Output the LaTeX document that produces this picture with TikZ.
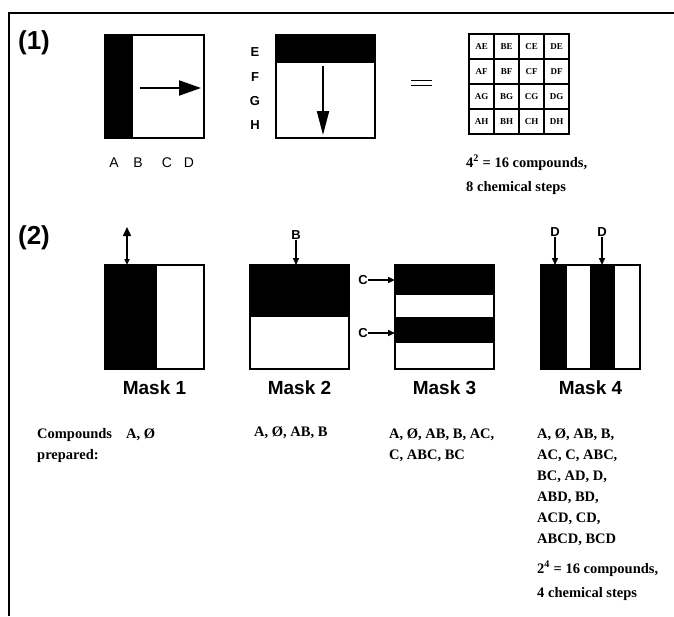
\documentclass[tikz,border=0pt]{standalone}
\usepackage{fontspec}
\setmainfont{Liberation Serif}
\newfontfamily\hv{Liberation Sans}
\usetikzlibrary{arrows.meta,calc}

\begin{document}
\begin{tikzpicture}[x=1pt,y=-1pt,
  frame/.style={line width=1.6pt},
  maskbox/.style={draw,line width=1.8pt,rectangle,minimum width=99pt,minimum height=104pt,inner sep=0pt,outer sep=0pt},
  panelbox/.style={draw,line width=1.8pt,rectangle,minimum width=99pt,minimum height=103pt,inner sep=0pt,outer sep=0pt},
  tag/.style={font=\hv\bfseries\fontsize{13}{13}\selectfont,inner sep=0pt},
  axis/.style={font=\hv\fontsize{14}{14}\selectfont,inner sep=0pt},
  masklabel/.style={font=\hv\bfseries\fontsize{19}{19}\selectfont,inner sep=0pt},
  body/.style={font=\bfseries\fontsize{14.5}{21}\selectfont,inner sep=0pt,align=left,anchor=north west},
  note/.style={font=\bfseries\fontsize{14.5}{24}\selectfont,inner sep=0pt,align=left,anchor=north west},
  num/.style={font=\hv\bfseries\fontsize{26}{26}\selectfont,inner sep=0pt},
  bigarrow/.style={line width=2pt,-{Triangle[length=22pt,width=15pt]}},
  downarrow/.style={line width=2pt,-{Triangle[length=24pt,width=12pt]}},
  smallarrow/.style={line width=1.5pt,-{Triangle[length=7pt,width=6pt]}},
  bothways/.style={line width=1.5pt,{Triangle[length=9pt,width=8pt]}-{Triangle[length=6pt,width=5pt]}},
  cell/.style={draw,line width=1.2pt,minimum size=25pt,inner sep=0pt,font=\bfseries\fontsize{9}{9}\selectfont}
]
\useasboundingbox (0,0) rectangle (674,616);

% outer frame (top and left edges)
\draw[frame] (674,13) -- (9,13) -- (9,616);

% ---------------- part (1) ----------------
\node[num] (p1) at (34,43) {(1)};

% first mask: dark column A, sweep to the right
\fill (105,35) rectangle (133,138);
\node[panelbox] (b1) at (154.5,86.5) {};
\coordinate (r1s) at (140,88);
\coordinate (r1e) at (201,88);
\draw[bigarrow] (r1s) -- (r1e);
\node[axis] (xa) at (114,163) {A};
\node[axis] (xb) at (138,163) {B};
\node[axis] (xc) at (167,163) {C};
\node[axis] (xd) at (189,163) {D};

% second mask: dark row E, sweep downwards
\fill (277,35) rectangle (374,63);
\node[panelbox] (b2) at (325.5,86.5) {};
\coordinate (d1s) at (323,66);
\coordinate (d1e) at (323,135);
\draw[downarrow] (d1s) -- (d1e);
\node[tag] (ye) at (255,52) {E};
\node[tag] (yf) at (255,77) {F};
\node[tag] (yg) at (255,101) {G};
\node[tag] (yh) at (255,125) {H};

% equals sign
\draw[line width=1.8pt] (411,80.5) -- (432,80.5);
\draw[line width=1.8pt] (411,85.5) -- (432,85.5);

% 4x4 product grid
\foreach \c [count=\i from 0] in {A,B,C,D}{
  \foreach \r [count=\j from 0] in {E,F,G,H}{
    \node[cell] (g\c\r) at ({481.5+25*\i},{46.5+25*\j}) {\c\r};
  }
}
\draw[line width=2pt] (469,34) rectangle (569,134);

\node[note] (sum1) at (466,155) {4\textsuperscript{2} = 16 compounds,\\8 chemical steps};

% ---------------- part (2) ----------------
\node[num] (p2) at (34,238) {(2)};

% Mask 1
\fill (105,265) rectangle (157,369);
\node[maskbox] (m1) at (154.5,317) {};
\coordinate (a1) at (127,227);
\coordinate (m1in) at (127,265);
\draw[bothways] (a1) -- (m1in);
\node[masklabel] (l1) at (154.5,388) {Mask 1};

% Mask 2
\fill (250,265) rectangle (349,317);
\node[maskbox] (m2) at (299.5,317) {};
\node[tag] (lb) at (296,235) {B};
\draw[smallarrow] (lb.south) -- (lb.south |- m2.north);
\node[masklabel] (l2) at (299.5,388) {Mask 2};

% Mask 3
\fill (395,265) rectangle (494,295);
\fill (395,317) rectangle (494,343);
\node[maskbox] (m3) at (444.5,317) {};
\node[tag] (lc1) at (363,280) {C};
\node[tag] (lc2) at (363,333) {C};
\draw[smallarrow] (lc1.east) -- (lc1.east -| m3.west);
\draw[smallarrow] (lc2.east) -- (lc2.east -| m3.west);
\node[masklabel] (l3) at (444.5,388) {Mask 3};

% Mask 4
\fill (541,265) rectangle (567,369);
\fill (590,265) rectangle (615,369);
\node[maskbox] (m4) at (590.5,317) {};
\node[tag] (ld1) at (555,232) {D};
\node[tag] (ld2) at (602,232) {D};
\draw[smallarrow] (ld1.south) -- (ld1.south |- m4.north);
\draw[smallarrow] (ld2.south) -- (ld2.south |- m4.north);
\node[masklabel] (l4) at (590.5,388) {Mask 4};

% compounds prepared after each mask
\node[body] (t0) at (37,428) {Compounds\\prepared:};
\node[body] (t1) at (126,428) {A, Ø};
\node[body] (t2) at (254,426) {A, Ø, AB, B};
\node[body] (t3) at (389,428) {A, Ø, AB, B, AC,\\C, ABC, BC};
\node[body] (t4) at (537,428) {A, Ø, AB, B,\\AC, C, ABC,\\BC, AD, D,\\ABD, BD,\\ACD, CD,\\ABCD, BCD};
\node[note] (sum2) at (537,561) {2\textsuperscript{4} = 16 compounds,\\4 chemical steps};
\end{tikzpicture}
\end{document}
